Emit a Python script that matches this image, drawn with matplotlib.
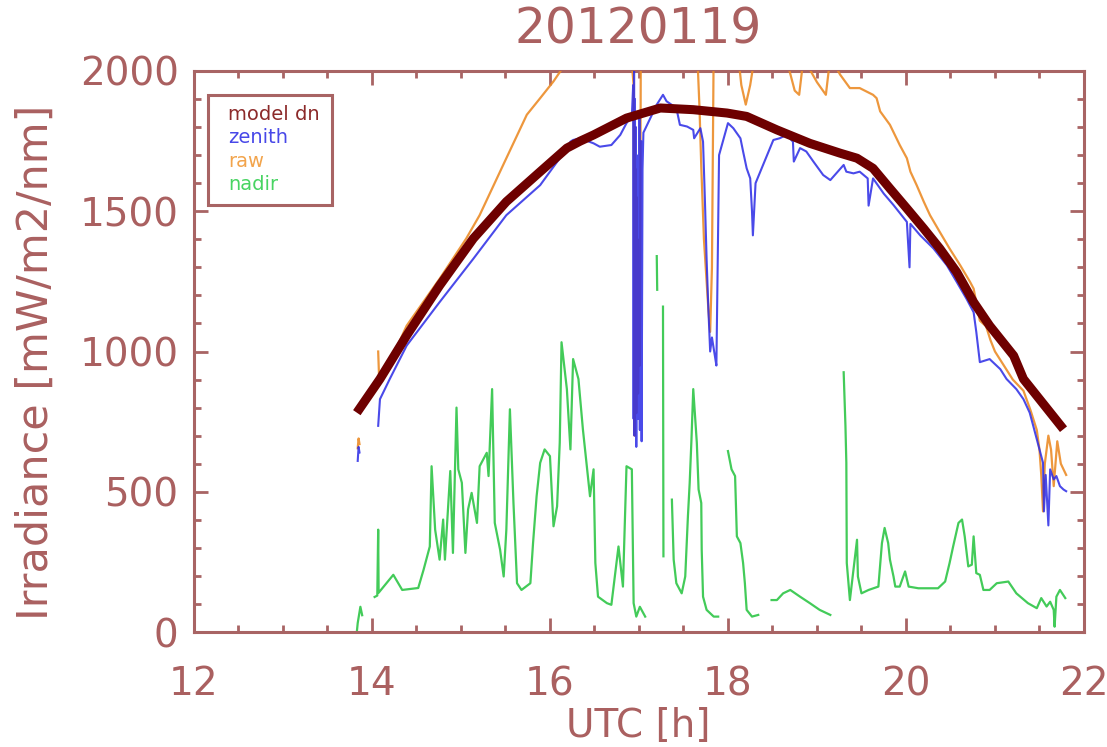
import numpy as np
import matplotlib
matplotlib.use("Agg")
import matplotlib.pyplot as plt
from matplotlib.patches import Rectangle
from matplotlib.ticker import MultipleLocator

nan = np.nan

# ---------------- data (UTC hours, irradiance mW/m2/nm) ----------------
model_t = [13.83, 14.09, 14.39, 14.76, 15.14, 15.51, 15.89, 16.19, 16.34, 16.49,
           16.86, 17.24, 17.61, 17.99, 18.21, 18.55, 18.92, 19.26, 19.45, 19.63,
           19.82, 20.01, 20.20, 20.38, 20.57, 20.76, 20.94, 21.21, 21.32, 21.77]
model_v = [782, 902, 1057, 1235, 1403, 1534, 1641, 1725, 1750, 1772,
           1832, 1868, 1862, 1850, 1838, 1790, 1742, 1707, 1689, 1653,
           1581, 1510, 1438, 1367, 1283, 1176, 1092, 985, 902, 723]

zenith_t = [13.84, 13.85, 13.86, 14.06, 14.07, 14.09, 14.20, 14.39, 14.76, 15.14,
            15.51, 15.89, 16.11, 16.19, 16.23, 16.26, 16.34, 16.49, 16.56, 16.69,
            16.79, 16.86, 16.92, 16.935, 16.94, 16.945, 16.95, 16.955, 16.96, 16.965,
            16.97, 16.975, 16.98, 16.985, 16.99, 16.995, 17.0, 17.005, 17.01, 17.015,
            17.02, 17.025, 17.03, 17.04, 17.05, 17.20,
            17.27, 17.31, 17.42, 17.46, 17.54, 17.61, 17.62, 17.69, 17.72, 17.74,
            17.76, 17.78, 17.80, 17.82, 17.85, 17.87, 17.90, 18.00, 18.06, 18.14,
            18.17, 18.21, 18.25, 18.27, 18.28, 18.31, 18.51, 18.58, 18.66, 18.73,
            18.74, 18.81, 18.88, 18.96, 19.07, 19.15, 19.30, 19.33, 19.41, 19.48,
            19.57, 19.58, 19.63, 19.75, 19.86, 20.01, 20.04, 20.05, 20.16, 20.31,
            20.46, 20.57, 20.68, 20.76, 20.79, 20.83, 20.94, 21.06, 21.13, 21.24,
            21.32, 21.39, 21.43, 21.47, 21.51, 21.54, 21.55, 21.57, 21.60, 21.62,
            21.66, 21.69, 21.73, 21.77, 21.80]
zenith_v = [610, 660, 640, nan, 735, 830, 902, 1021, 1176, 1331,
            1486, 1593, 1689, 1713, 1748, 1754, 1760, 1742, 1730, 1736,
            1772, 1814, 1838, 1950, 760, 2000, 700, 1900, 820, 1800,
            660, 1700, 900, 1600, 760, 1500, 1000, 1850, 720, 1400,
            1100, 1750, 680, 1650, 1780, 1880,
            1915, 1892, 1868, 1808, 1802, 1790, 1760, 1796, 1748, 1550,
            1330, 1150, 1000, 1050, 990, 950, 1700, 1814, 1796, 1760,
            1713, 1653, 1617, 1500, 1414, 1600, 1754, 1760, 1772, 1748,
            1677, 1725, 1713, 1677, 1629, 1611, 1665, 1641, 1635, 1641,
            1617, 1520, 1617, 1563, 1522, 1462, 1300, 1455, 1414, 1367,
            1307, 1248, 1188, 1140, 1070, 962, 973, 937, 902, 866,
            830, 782, 735, 687, 639, 603, 430, 560, 380, 580,
            544, 556, 520, 508, 502]

raw_t = [13.84, 13.85, 13.86, 14.06, 14.07, 14.08, 14.20, 14.39, 14.76, 15.06,
         15.21, 15.51, 15.74, 15.89, 16.04, 16.13, 16.20, 16.90, 16.94, 16.95,
         16.955, 16.96, 16.965, 16.97, 16.975, 16.98, 16.985, 16.99, 17.0, 17.01,
         17.02, 17.05, 17.65, 17.68, 17.70, 17.73, 17.76, 17.78, 17.80, 17.82,
         17.84, 18.10, 18.15, 18.20, 18.25, 18.30, 18.65, 18.70, 18.75, 18.80,
         18.85, 18.92, 19.00, 19.10, 19.15, 19.26, 19.37, 19.48, 19.63, 19.67,
         19.71, 19.82, 19.93, 20.01, 20.05, 20.12, 20.20, 20.27, 20.38, 20.49,
         20.61, 20.72, 20.76, 20.83, 20.90, 20.95, 21.00, 21.10, 21.20, 21.32,
         21.40, 21.47, 21.50, 21.52, 21.54, 21.56, 21.60, 21.63, 21.66, 21.70,
         21.74, 21.80]
raw_v = [655, 690, 670, nan, 1000, 910, 960, 1092, 1259, 1403,
         1486, 1689, 1844, 1903, 1963, 2005, 2060, 2100, 1950, 700,
         1800, 900, 1650, 780, 1550, 1000, 1400, 850, 1250, 950,
         2000, 2100, 2100, 1870, 1660, 1400, 1250, 1150, 1070, 1300,
         2100, 2100, 1950, 1880, 1950, 2050, 2050, 1990, 1930, 1915,
         2050, 2005, 1960, 1915, 2050, 1987, 1939, 1939, 1915, 1903,
         1856, 1808, 1736, 1689, 1641, 1593, 1534, 1486, 1426, 1367,
         1307, 1248, 1224, 1110, 1090, 1040, 1000, 950, 900, 860,
         790, 720, 650, 560, 430, 600, 700, 650, 520, 680,
         600, 560]

nadir_t = [13.83, 13.84, 13.87, 13.89, 13.90, 14.03, 14.06, 14.07, 14.075, 14.24,
           14.34, 14.52, 14.58, 14.65, 14.67, 14.71, 14.76, 14.80, 14.82, 14.88,
           14.91, 14.95, 14.97, 15.01, 15.05, 15.08, 15.12, 15.18, 15.21, 15.29,
           15.31, 15.35, 15.38, 15.44, 15.48, 15.51, 15.55, 15.59, 15.63, 15.68,
           15.78, 15.81, 15.85, 15.89, 15.94, 16.00, 16.04, 16.08, 16.11, 16.13,
           16.19, 16.23, 16.26, 16.32, 16.37, 16.41, 16.45, 16.49, 16.51, 16.54,
           16.64, 16.69, 16.77, 16.82, 16.86, 16.92, 16.94, 16.97, 17.01, 17.07,
           17.08, 17.20, 17.205, 17.21, 17.27, 17.275, 17.28, 17.37, 17.39, 17.42,
           17.48, 17.52, 17.55, 17.57, 17.59, 17.61, 17.65, 17.67, 17.70, 17.705,
           17.72, 17.76, 17.84, 17.89, 17.90, 18.00, 18.04, 18.08, 18.10, 18.14,
           18.17, 18.19, 18.21, 18.27, 18.34, 18.35, 18.49, 18.55, 18.62, 18.70,
           18.81, 18.92, 19.03, 19.15, 19.16, 19.30, 19.32, 19.33, 19.335, 19.37,
           19.45, 19.46, 19.50, 19.58, 19.69, 19.73, 19.76, 19.80, 19.82, 19.86,
           19.88, 19.93, 19.99, 20.03, 20.14, 20.36, 20.44, 20.49, 20.53, 20.59,
           20.63, 20.66, 20.70, 20.74, 20.76, 20.79, 20.83, 20.87, 20.94, 21.02,
           21.15, 21.24, 21.37, 21.47, 21.52, 21.58, 21.62, 21.66, 21.67, 21.69,
           21.73, 21.79]
nadir_v = [0, 32, 90, 60, nan, 125, 130, 365, 140, 204,
           150, 157, 222, 305, 591, 365, 258, 401, 258, 574,
           282, 800, 580, 532, 282, 437, 496, 389, 591, 639,
           556, 866, 389, 293, 198, 365, 794, 460, 174, 150,
           174, 317, 484, 603, 651, 627, 377, 448, 675, 1033,
           866, 651, 973, 902, 723, 603, 484, 580, 246, 126,
           103, 97, 305, 162, 591, 580, 103, 55, 90, 55,
           nan, 1340, 1220, nan, 1160, 270, nan, 472, 258, 174,
           138, 198, 412, 532, 687, 866, 675, 508, 460, 293,
           126, 79, 55, 55, nan, 645, 580, 556, 341, 317,
           246, 174, 79, 55, 61, nan, 114, 114, 138, 150,
           126, 103, 79, 61, nan, 926, 735, 603, 246, 114,
           329, 198, 138, 150, 162, 317, 371, 317, 258, 198,
           162, 162, 216, 162, 156, 156, 180, 246, 305, 389,
           401, 341, 234, 240, 341, 210, 204, 150, 150, 174,
           180, 138, 103, 85, 121, 91, 108, 79, 19, 126,
           150, 121]

legend_labels = ["model dn", "zenith", "raw", "nadir"]
title_text = "20120119"
xticks = [12, 14, 16, 18, 20, 22]
yticks = [0, 500, 1000, 1500, 2000]

# ---------------- styling ----------------
AX = "#a86464"
TXT = "#aa6060"
C_MODEL = "#6e0000"
C_ZEN = "#2a2ae6"
C_RAW = "#ec8c28"
C_NAD = "#22c23c"

plt.rcParams['font.family'] = ['DejaVu Sans']

fig = plt.figure(figsize=(11.07, 7.47), dpi=100)
ax = fig.add_axes([0.1752, 0.1539, 0.9792 - 0.1752, 0.9050 - 0.1539])

ax.plot(nadir_t, nadir_v, color=C_NAD, lw=1.6, alpha=0.85, zorder=2)
ax.plot(raw_t, raw_v, color=C_RAW, lw=1.6, alpha=0.9, zorder=3)
ax.plot(zenith_t, zenith_v, color=C_ZEN, lw=1.5, alpha=0.85, zorder=4)
ax.plot(model_t, model_v, color=C_MODEL, lw=6.5, solid_capstyle='butt', zorder=5)

ax.set_xlim(12, 22)
ax.set_ylim(0, 2000)
ax.set_xticks(xticks)
ax.set_yticks(yticks)
ax.xaxis.set_minor_locator(MultipleLocator(0.5))
ax.yaxis.set_minor_locator(MultipleLocator(100))
ax.tick_params(which='both', direction='in', top=True, right=True,
               color=AX, width=2.0)
ax.tick_params(which='major', length=10)
ax.tick_params(which='minor', length=5)
ax.tick_params(axis='x', which='major', pad=24, labelsize=28, labelcolor=TXT)
ax.tick_params(axis='y', which='major', pad=11, labelsize=28, labelcolor=TXT)
for s in ax.spines.values():
    s.set_color(AX)
    s.set_linewidth(2.2)

fig.text(0.576, 1 - 30 / 747, title_text, color=TXT, fontsize=35,
         ha='center', va='center')
fig.text(36 / 1107, 1 - 362 / 747, "Irradiance [mW/m2/nm]", color=TXT,
         fontsize=31, rotation=90, ha='center', va='center')
fig.text(0.577, 2 / 747, "UTC [h]", color=TXT, fontsize=28,
         ha='center', va='bottom')

# legend box
ax.add_patch(Rectangle((0.0157, 0.761), 0.155 - 0.0157, 0.957 - 0.761,
                       transform=ax.transAxes, fill=False, edgecolor=AX,
                       lw=2.2, zorder=6))
leg_colors = ["#8c2a2a", "#4848e8", "#f2a44c", "#48d462"]
leg_y = [0.9216, 0.8806, 0.8378, 0.7968]
for lab, c, yy in zip(legend_labels, leg_colors, leg_y):
    ax.text(0.038, yy, lab, color=c, fontsize=14, transform=ax.transAxes,
            ha='left', va='center', zorder=7)

fig.savefig("out.png", dpi=100)
